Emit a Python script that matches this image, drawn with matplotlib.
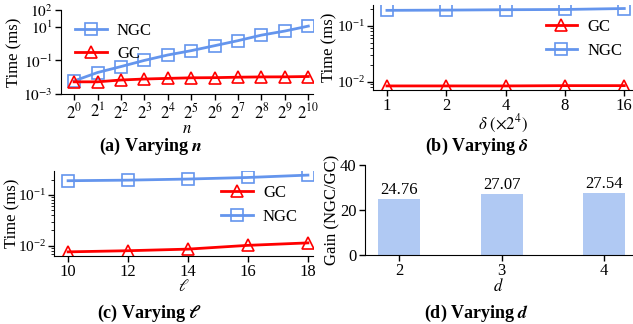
import matplotlib
matplotlib.use("Agg")
import matplotlib.pyplot as plt
from matplotlib.ticker import LogLocator, NullFormatter
import numpy as np

plt.rcParams['font.family'] = ['Liberation Serif', 'DejaVu Serif']
plt.rcParams['mathtext.fontset'] = 'stix'
plt.rcParams['font.size'] = 12

BLUE = '#6495ED'
RED = '#FF0000'
BAR = '#b0c9f3'

# ---------- data ---------------------
n_exp = list(range(11))
n_ngc = [0.006, 0.019, 0.043, 0.10, 0.21, 0.38, 0.75, 1.5, 3.2, 5.6, 11.0]
n_gc = [0.0053, 0.0053, 0.0068, 0.0078, 0.0085, 0.0092, 0.0094, 0.0100, 0.0104, 0.0105, 0.0110]

delta_labels = ['1', '2', '4', '8', '16']
delta_ngc = [0.190, 0.192, 0.195, 0.197, 0.205]
delta_gc = [0.0084, 0.0084, 0.0084, 0.0085, 0.0085]

ell = [10, 12, 14, 16, 18]
ell_ngc = [0.190, 0.195, 0.205, 0.220, 0.245]
ell_gc = [0.0076, 0.0080, 0.0086, 0.0102, 0.0114]

d_vals = [2, 3, 4]
gain = [24.76, 27.07, 27.54]


def style(ax, ysize=12):
    ax.spines['top'].set_visible(False)
    ax.spines['right'].set_visible(False)
    ax.tick_params(direction='out', length=4, width=1, labelsize=12, pad=2)
    ax.tick_params(axis='y', labelsize=ysize)
    ax.tick_params(which='minor', length=2)


def line(ax, x, y, color, marker, label):
    ax.plot(x, y, color=color, marker=marker, markersize=8, linewidth=2,
            markerfacecolor='none', markeredgewidth=1.2, label=label)


fig = plt.figure(figsize=(6.33, 3.24), dpi=100)
W, H = 633, 324


def axes_px(l, t, r, b):
    return fig.add_axes([l / W, 1 - b / H, (r - l) / W, (b - t) / H])


def ylabel_at(ax, text, px, l, r):
    ax.set_ylabel(text, va='center')
    ax.yaxis.set_label_coords((px - l) / (r - l), 0.5)


leg_kw = dict(frameon=False, fontsize=12, handlelength=1.9, handletextpad=0.6,
              labelspacing=0.45)

# ---------- (a) ---------------------
ax = axes_px(61, 10, 313, 94)
line(ax, n_exp, n_ngc, BLUE, 's', 'NGC')
line(ax, n_exp, n_gc, RED, '^', 'GC')
ax.set_yscale('log')
ax.set_ylim(1e-3, 1e2)
ax.set_yticks([1e-3, 1e-1, 1e1, 1e2])
ax.set_yticklabels([r'$10^{-3}$', r'$10^{-1}$', r'$10^{1}$', r'$10^{2}$'])
ax.yaxis.set_minor_locator(plt.NullLocator())
ax.set_xlim(-0.56, 10.2)
ax.set_xticks(n_exp)
ax.set_xticklabels([r'$2^{%d}$' % k for k in n_exp])
ax.set_xlabel(r'$n$', labelpad=-1)
ylabel_at(ax, 'Time (ms)', 14, 61, 313)
ax.legend(loc='upper left', bbox_to_anchor=(0.03, 0.93), borderaxespad=0, **leg_kw)
style(ax, 11)

# ---------- (b) ---------------------
ax = axes_px(373, 5, 632, 90)
x = np.arange(len(delta_labels))
line(ax, x, delta_gc, RED, '^', 'GC')
line(ax, x, delta_ngc, BLUE, 's', 'NGC')
ax.set_yscale('log')
ax.set_ylim(0.0071, 0.237)
ax.yaxis.set_major_locator(LogLocator(base=10))
ax.yaxis.set_minor_locator(LogLocator(base=10, subs=np.arange(2, 10)))
ax.yaxis.set_minor_formatter(NullFormatter())
ax.set_xlim(-0.235, 4.13)
ax.set_xticks(x)
ax.set_xticklabels(delta_labels)
ax.set_xlabel(r'$\delta\ (\times 2^{4})$', labelpad=-1)
ylabel_at(ax, 'Time (ms)', 329, 373, 632)
ax.legend(loc='center right', bbox_to_anchor=(1.02, 0.6), **leg_kw)
style(ax, 11)

# ---------- (c) ---------------------
ax = axes_px(54, 171, 313, 256)
line(ax, ell, ell_ngc, BLUE, 's', 'NGC')
line(ax, ell, ell_gc, RED, '^', 'GC')
ax.set_yscale('log')
ax.set_ylim(0.0063, 0.295)
ax.yaxis.set_major_locator(LogLocator(base=10))
ax.yaxis.set_minor_locator(LogLocator(base=10, subs=np.arange(2, 10)))
ax.yaxis.set_minor_formatter(NullFormatter())
ax.set_xlim(9.53, 18.17)
ax.set_xticks(ell)
ax.set_xlabel(r'$\ell$', labelpad=-1)
ylabel_at(ax, 'Time (ms)', 12, 54, 313)
h, l = ax.get_legend_handles_labels()
ax.legend(h[::-1], l[::-1], loc='center right', bbox_to_anchor=(1.0, 0.6), **leg_kw)
style(ax, 11)

# ---------- (d) ---------------------
ax = axes_px(365, 165, 632, 255)
bars = ax.bar(d_vals, gain, width=0.41, color=BAR)
for b, g in zip(bars, gain):
    ax.text(b.get_x() + b.get_width() / 2, g + 0.5, '%.2f' % g,
            ha='center', va='bottom', fontsize=12)
ax.set_ylim(0, 40)
ax.set_yticks([0, 20, 40])
ax.set_xlim(1.67, 4.27)
ax.set_xticks(d_vals)
ax.set_xlabel(r'$d$', labelpad=-1)
ylabel_at(ax, 'Gain (NGC/GC)', 332, 365, 632)
style(ax)

# ---------- captions ---------------------
cap = dict(ha='center', va='center', fontsize=13, fontweight='bold')
fig.text(151 / W, 1 - 146 / H, r'(a) Varying $\mathbfit{n}$', **cap)
fig.text(477 / W, 1 - 146 / H, r'(b) Varying $\mathbfit{\delta}$', **cap)
fig.text(150 / W, 1 - 313 / H, r'(c) Varying $\mathbfit{\ell}$', **cap)
fig.text(477 / W, 1 - 313 / H, r'(d) Varying $\mathbfit{d}$', **cap)

fig.savefig('out.png', dpi=100)
